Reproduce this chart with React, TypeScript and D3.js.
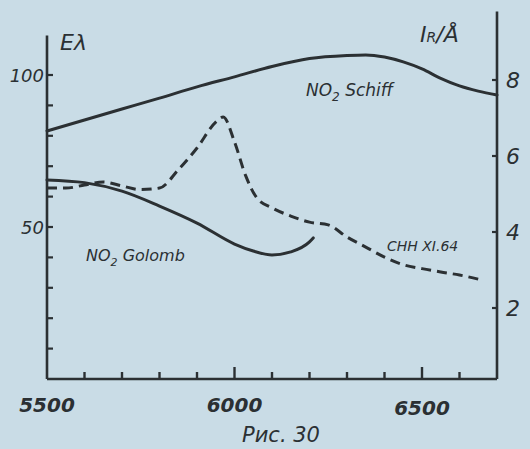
import React from "react";
import * as d3 from "d3";

// wavelengths (Å) and values
const schiffX = [5500, 5600, 5700, 5800, 5900, 6000, 6100, 6200, 6300, 6350, 6400, 6450, 6500, 6550, 6600, 6650, 6700];
const schiffY = [81.6, 85.2, 88.8, 92.4, 96.1, 99.4, 102.8, 105.4, 106.4, 106.6, 105.9, 104.3, 102, 98.9, 96.4, 94.7, 93.4];

const golombX = [5500, 5600, 5700, 5800, 5900, 6000, 6050, 6100, 6150, 6200, 6210];
const golombY = [65.5, 64.6, 61.8, 56.9, 51.3, 44.4, 42.1, 40.8, 41.8, 45.1, 46.4];

const chhX = [5500, 5550, 5600, 5650, 5700, 5750, 5800, 5850, 5900, 5950, 5970, 6000, 6030, 6060, 6100, 6150, 6200, 6250, 6300, 6350, 6400, 6450, 6500, 6550, 6600, 6665];
const chhY = [62.8, 62.8, 63.8, 64.8, 63.5, 62.3, 62.8, 68.8, 76, 84.5, 86.2, 78, 66.8, 59.5, 56.3, 53.6, 51.6, 50.7, 46.7, 43.4, 40.1, 37.6, 36.3, 35.2, 34.2, 32.4];

const xTickValues = [5500, 5600, 5700, 5800, 5900, 6000, 6100, 6200, 6300, 6400, 6500, 6600];
const xTickLabels = ["5500", "6000", "6500"];
const leftTickValues = [10, 20, 30, 40, 50, 60, 70, 80, 90, 100];
const leftTickLabels = ["50", "100"];
const rightTickLabels = ["2", "4", "6", "8"];

const INK = "#2b3033";
const BG = "#c9dce6";
const FONT = "'DejaVu Sans', sans-serif";

export default function App() {
  const W = 530, H = 449;
  const x = d3.scaleLinear().domain([5500, 6700]).range([47, 497]);
  const yL = d3.scaleLinear().domain([0, 100]).range([379, 75]);
  const yR = d3.scaleLinear().domain([0, 10]).range([384, 4]);

  const line = d3
    .line<[number, number]>()
    .x((d) => x(d[0]))
    .y((d) => yL(d[1]))
    .curve(d3.curveMonotoneX);

  const schiff = line(schiffX.map((v, i) => [v, schiffY[i]]));
  const golomb = line(golombX.map((v, i) => [v, golombY[i]]));
  const chh = line(chhX.map((v, i) => [v, chhY[i]]));

  const baseY = yL(0);

  return (
    <svg
      width={W}
      height={H}
      style={{ position: "fixed", left: 0, top: 0, background: BG }}
      fontFamily={FONT}
      fontStyle="italic"
    >
      <rect x={0} y={0} width={W} height={H} fill={BG} />
      {/* axes */}
      <line x1={x(5500)} x2={x(5500)} y1={yL(113)} y2={baseY} stroke={INK} strokeWidth={2.6} />
      <line x1={x(5500)} x2={x(6700)} y1={baseY} y2={baseY} stroke={INK} strokeWidth={2.6} />
      <line x1={x(6700)} x2={x(6700)} y1={yR(9.8)} y2={baseY} stroke={INK} strokeWidth={2.6} />
      {xTickValues.slice(1).map((t) => (
        <line
          key={t}
          x1={x(t)}
          x2={x(t)}
          y1={baseY}
          y2={baseY - (t % 500 === 0 ? 12 : 7)}
          stroke={INK}
          strokeWidth={2.4}
        />
      ))}
      {leftTickValues.map((t) => (
        <line key={t} x1={x(5500)} x2={x(5500) + 6} y1={yL(t)} y2={yL(t)} stroke={INK} strokeWidth={2.2} />
      ))}
      {rightTickLabels.map((t) => (
        <line key={t} x1={x(6700) - 5} x2={x(6700)} y1={yR(+t)} y2={yR(+t)} stroke={INK} strokeWidth={2.2} />
      ))}
      {/* tick labels */}
      {xTickLabels.map((t) => (
        <text
          key={t}
          x={x(+t)}
          y={baseY + 33 + (+t === 6500 ? 3 : 0)}
          textAnchor="middle"
          fontSize={20}
          fontWeight="bold"
          fill={INK}
        >
          {t}
        </text>
      ))}
      {leftTickLabels.map((t) => (
        <text key={t} x={x(5500) - 3} y={yL(+t) + 7} textAnchor="end" fontSize={18} fill={INK}>
          {t}
        </text>
      ))}
      {rightTickLabels.map((t) => (
        <text key={t} x={x(6700) + 9} y={yR(+t) + 8} textAnchor="start" fontSize={22} fill={INK}>
          {t}
        </text>
      ))}
      {/* axis titles */}
      <text x={60} y={50} fontSize={22} fill={INK}>
        Eλ
      </text>
      <text x={420} y={42} fontSize={22} fill={INK}>
        I<tspan fontSize={14}>R</tspan>/Å
      </text>
      {/* curves */}
      <path d={schiff ?? ""} fill="none" stroke={INK} strokeWidth={3} strokeLinecap="round" />
      <path d={golomb ?? ""} fill="none" stroke={INK} strokeWidth={3} strokeLinecap="round" />
      <path d={chh ?? ""} fill="none" stroke={INK} strokeWidth={3} strokeDasharray="10 6" />
      {/* curve labels */}
      <text x={306} y={96} fontSize={17} fill={INK}>
        NO<tspan fontSize={12} dy={5}>2</tspan>
        <tspan dy={-5}> Schiff</tspan>
      </text>
      <text x={86} y={261} fontSize={16} fill={INK}>
        NO<tspan fontSize={11} dy={5}>2</tspan>
        <tspan dy={-5}> Golomb</tspan>
      </text>
      <text x={387} y={251} fontSize={14} fill={INK}>
        CHH XI.64
      </text>
      <text x={281} y={442} textAnchor="middle" fontSize={21} fill={INK}>
        Рис. 30
      </text>
    </svg>
  );
}
